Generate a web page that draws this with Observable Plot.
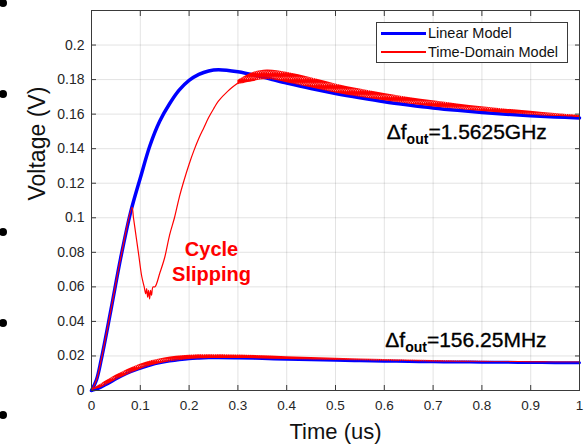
<!DOCTYPE html>
<html><head><meta charset="utf-8">
<script src="https://cdn.jsdelivr.net/npm/d3@7"></script>
<script src="https://cdn.jsdelivr.net/npm/@observablehq/plot@0.6"></script>
<style>
body{margin:0;background:#fff;}
#wrap{position:relative;width:588px;height:445px;font-family:"Liberation Sans",Arial,sans-serif;overflow:hidden;}
.bullet{position:absolute;width:8px;height:8px;border-radius:50%;background:#000;}
#legend{position:absolute;left:376px;top:22px;width:192px;height:41px;border:1px solid #3a3a3a;background:#fff;box-sizing:border-box;}
#legend .ln{position:absolute;left:4px;width:45px;}
#legend .tx{position:absolute;left:51px;font-size:14.5px;color:#111;white-space:nowrap;line-height:16px;}
</style></head><body><div id="wrap"></div>
<script>
// ---- data ----
const xTicks = [0,0.1,0.2,0.3,0.4,0.5,0.6,0.7,0.8,0.9,1];
const yTicks = [0,0.02,0.04,0.06,0.08,0.1,0.12,0.14,0.16,0.18,0.2];

const tLinear = [0,0.01,0.02,0.04,0.06,0.08,0.10,0.12,0.14,0.16,0.18,0.20,0.22,0.24,0.26,0.30,0.35,0.40,0.45,0.50,0.55,0.60,0.65,0.70,0.75,0.80,0.85,0.90,0.95,1.00];
const vLinearBig = [0,0.006,0.018,0.047,0.077,0.103,0.123,0.142,0.156,0.166,0.174,0.1795,0.183,0.185,0.1857,0.1845,0.1815,0.178,0.1748,0.172,0.1695,0.1672,0.1653,0.1636,0.1622,0.161,0.16,0.1591,0.1584,0.1578];
const vLinearSmall = [0,0.0007,0.002,0.005,0.0082,0.0108,0.0128,0.0146,0.016,0.017,0.0178,0.0184,0.0187,0.0189,0.0189,0.0188,0.0185,0.0181,0.0178,0.0175,0.0172,0.017,0.0168,0.0166,0.0165,0.0164,0.0163,0.0162,0.0161,0.0161];

// time-domain model, large step: smooth part (incl. cycle slip)
const tTD = [0,0.01,0.02,0.04,0.06,0.083,0.086,0.092,0.097,0.103,0.108,0.111,0.113,0.115,0.117,0.119,0.121,0.123,0.126,0.13,0.14,0.15,0.16,0.17,0.18,0.19,0.2,0.21,0.22,0.23,0.24,0.25,0.26,0.28,0.30];
const vTD = [0,0.006,0.018,0.047,0.077,0.106,0.100,0.088,0.078,0.066,0.060,0.056,0.059,0.054,0.058,0.053,0.058,0.055,0.060,0.060,0.068,0.077,0.090,0.100,0.112,0.122,0.131,0.139,0.146,0.152,0.158,0.163,0.1675,0.1735,0.178];
// time-domain model, large step: ripple band (lower / upper envelope)
const tBand = [0.30,0.33,0.36,0.40,0.45,0.50,0.55,0.60,0.65,0.70,0.75,0.80,0.85,0.90,0.95,1.00];
const bandLo = [0.177,0.1788,0.180,0.1782,0.1753,0.1723,0.1698,0.1678,0.1659,0.1642,0.1629,0.1615,0.1604,0.1594,0.1586,0.158];
const bandHi = [0.1795,0.184,0.1856,0.1842,0.181,0.1775,0.1745,0.172,0.1697,0.1677,0.1659,0.1643,0.1629,0.1616,0.1603,0.1592];
// time-domain model, small step: ripple band
const tSmall = [0,0.02,0.05,0.1,0.15,0.2,0.3,0.4,0.5,0.6,0.7,0.8,0.9,1.0];
const smallLo = [0,0.0016,0.006,0.0122,0.016,0.018,0.0185,0.0179,0.0173,0.0169,0.0165,0.0163,0.0161,0.016];
const smallHi = [0.0004,0.0038,0.0088,0.0152,0.0188,0.0204,0.0205,0.0196,0.0187,0.0179,0.0173,0.0169,0.0166,0.0164];

const annotT = [0.605,0.602];
const annotV = [0.1457,0.0254];
const annotBase = ["Δf","Δf"];
const annotSub = ["out","out"];
const annotRest = ["=1.5625GHz","=156.25MHz"];

const slipT = [0.246,0.246];
const slipV = [0.078,0.0636];
const slipText = ["Cycle","Slipping"];

const legendNames = ["Linear Model","Time-Domain Model"];
const legendColors = ["#0000ff","#ff0000"];

// ---- build tables ----
const linBig = tLinear.map((t,i)=>({t, v:vLinearBig[i]}));
const linSmall = tLinear.map((t,i)=>({t, v:vLinearSmall[i]}));
const td = tTD.map((t,i)=>({t, v:vTD[i]}));
const band = tBand.map((t,i)=>({t, lo:bandLo[i], hi:bandHi[i]}));
const bandS = tSmall.map((t,i)=>({t, lo:smallLo[i], hi:smallHi[i]}));
const annots = annotT.map((t,i)=>({t, v:annotV[i], text:annotBase[i]+annotSub[i]+annotRest[i], i}));
const slips = slipT.map((t,i)=>({t, v:slipV[i], text:slipText[i]}));

const noLabel = ()=>"";
const fmt = d3.format("~g");
const chart = Plot.plot({
  width:588, height:445,
  marginLeft:91, marginRight:9, marginTop:10, marginBottom:55,
  style:{fontFamily:'"Liberation Sans", Arial, sans-serif', fontSize:"13.5px", color:"#262626", background:"transparent"},
  x:{domain:[0,1]},
  y:{domain:[0,0.22]},
  marks:[
    Plot.gridX(xTicks,{stroke:"#262626", strokeOpacity:0.13}),
    Plot.gridY(yTicks,{stroke:"#262626", strokeOpacity:0.13}),
    Plot.line(linBig,{x:"t", y:"v", stroke:"#0000ff", strokeWidth:3.5, curve:"catmull-rom"}),
    Plot.line(linSmall,{x:"t", y:"v", stroke:"#0000ff", strokeWidth:3, curve:"catmull-rom"}),
    Plot.areaY(band,{x:"t", y1:"lo", y2:"hi", fill:"url(#zig)", curve:"catmull-rom"}),
    Plot.areaY(bandS,{x:"t", y1:"lo", y2:"hi", fill:"url(#zig)", curve:"catmull-rom"}),
    Plot.line(td,{x:"t", y:"v", stroke:"#ff0000", strokeWidth:1.2, curve:"catmull-rom"}),
    Plot.frame({stroke:"#3a3a3a"}),
    Plot.axisX(xTicks,{anchor:"bottom", tickSize:-5, tickFormat:noLabel, label:null, stroke:"#3a3a3a"}),
    Plot.axisX(xTicks,{anchor:"top", tickSize:-5, tickFormat:noLabel, label:null, stroke:"#3a3a3a"}),
    Plot.axisY(yTicks,{anchor:"left", tickSize:-5, tickFormat:noLabel, label:null, stroke:"#3a3a3a"}),
    Plot.axisY(yTicks,{anchor:"right", tickSize:-5, tickFormat:noLabel, label:null, stroke:"#3a3a3a"}),
    Plot.axisX(xTicks,{anchor:"bottom", tickSize:0, tickPadding:10, tickFormat:fmt, label:null, fontSize:13.5, fill:"#262626"}),
    Plot.axisY(yTicks,{anchor:"left", tickSize:0, tickPadding:7, tickFormat:fmt, label:null, fontSize:14, fill:"#262626"}),
    Plot.text(["Time (us)"],{text:d=>d, frameAnchor:"bottom", dy:48, lineAnchor:"bottom", fontSize:22, fill:"#111"}),
    Plot.text(["Voltage (V)"],{text:d=>d, frameAnchor:"left", dx:-47, rotate:-90, lineAnchor:"bottom", fontSize:23, fill:"#111"}),
    Plot.text(slips,{x:"t", y:"v", text:"text", fill:"#ff0000", fontWeight:"bold", fontSize:20, lineAnchor:"bottom"}),
    Plot.text(annots,{x:"t", y:"v", text:"text", fill:"#000", fontSize:21, textAnchor:"start", lineAnchor:"bottom", stroke:"#000", strokeWidth:0.35})
  ]
});

// pattern for the dense ripple of the time-domain model
const ns = "http://www.w3.org/2000/svg";
const defs = document.createElementNS(ns,"defs");
defs.innerHTML = '<pattern id="zig" patternUnits="userSpaceOnUse" width="2.2" height="6"><path d="M0,0L1.1,6L2.2,0" stroke="#ff0000" stroke-width="1.55" fill="none"/></pattern>';
chart.insertBefore(defs, chart.firstChild);

// subscripts in the annotations
d3.select(chart).selectAll("text").each(function(){
  const el = this;
  const idx = annots.findIndex(a => a.text === el.textContent);
  if (idx < 0) return;
  el.textContent = "";
  const s = d3.select(el);
  s.append("tspan").text(annotBase[idx]);
  s.append("tspan").attr("dy",5).attr("font-size",14).attr("font-weight","bold").attr("stroke-width",0).text(annotSub[idx]);
  s.append("tspan").attr("dy",-5).text(annotRest[idx]);
});

const wrap = document.getElementById("wrap");
wrap.appendChild(chart);
chart.style.position="absolute"; chart.style.left="0"; chart.style.top="0";

// legend
const leg = document.createElement("div");
leg.id="legend";
legendNames.forEach((name,i)=>{
  const ln=document.createElement("div"); ln.className="ln";
  const w = i===0?3:1.3;
  ln.style.top=(i===0?10:29)-w/2+"px"; ln.style.height=w+"px"; ln.style.background=legendColors[i];
  const tx=document.createElement("div"); tx.className="tx"; tx.textContent=name;
  tx.style.top=(i===0?2:21)+"px";
  leg.appendChild(ln); leg.appendChild(tx);
});
wrap.appendChild(leg);

// slide bullets at the left edge
[3,94,232,323,415].forEach(y=>{
  const b=document.createElement("div"); b.className="bullet";
  b.style.left="-1px"; b.style.top=(y-4)+"px"; wrap.appendChild(b);
});
</script></body></html>
